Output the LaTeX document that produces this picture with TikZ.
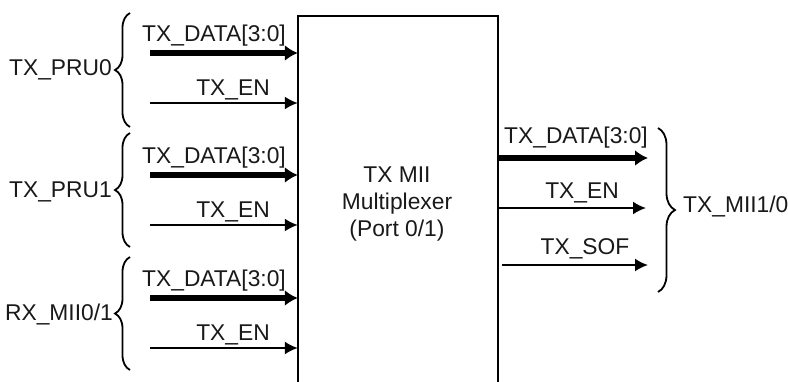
\documentclass[tikz,border=0pt]{standalone}
\usepackage{fontspec}
\setmainfont{Liberation Sans}
\usetikzlibrary{arrows.meta,decorations.pathreplacing}

\begin{document}
\begin{tikzpicture}[x=1pt,y=-1pt,
  bus/.style={line width=5.5pt,-{Latex[length=13pt,width=16pt]}},
  sig/.style={line width=2pt,-{Latex[length=13pt,width=13pt]}},
  brc/.style={line width=1.8pt,decorate,decoration={brace,amplitude=15pt}},
  lbl/.style={font=\fontsize{22.8}{27}\selectfont,inner sep=0pt,text=black!90}]
  \useasboundingbox (0,0) rectangle (788,381);
  % the multiplexer, open at the bottom
  \node[inner sep=0pt,minimum width=200pt,minimum height=380pt] (mux) at (398,206) {};
  \draw[line width=2pt] (mux.south west) -- (mux.north west) -- (mux.north east) -- (mux.south east);
  \node[lbl,align=center] (muxtxt) at (397,204) {TX MII\\Multiplexer\\(Port 0/1)};

  % TX_PRU0
  \coordinate (d0) at (150,53);
  \coordinate (e0) at (150,103);
  \draw[bus] (d0) -- (d0 -| mux.west);
  \draw[sig] (e0) -- (e0 -| mux.west);
  \node[lbl,anchor=base] (d0txt) at (214,41) {TX\_DATA[3:0]};
  \node[lbl,anchor=base] (e0txt) at (233,95.5) {TX\_EN};
  \draw[brc] (130,127) -- (130,13);
  \node[lbl,anchor=base east] (pru0) at (112,75) {TX\_PRU0};

  % TX_PRU1
  \coordinate (d1) at (150,175);
  \coordinate (e1) at (150,225);
  \draw[bus] (d1) -- (d1 -| mux.west);
  \draw[sig] (e1) -- (e1 -| mux.west);
  \node[lbl,anchor=base] (d1txt) at (214,163) {TX\_DATA[3:0]};
  \node[lbl,anchor=base] (e1txt) at (233,217.5) {TX\_EN};
  \draw[brc] (130,247) -- (130,133);
  \node[lbl,anchor=base east] (pru1) at (112,197) {TX\_PRU1};

  % RX_MII0/1
  \coordinate (d2) at (150,298);
  \coordinate (e2) at (150,348);
  \draw[bus] (d2) -- (d2 -| mux.west);
  \draw[sig] (e2) -- (e2 -| mux.west);
  \node[lbl,anchor=base] (d2txt) at (214,286) {TX\_DATA[3:0]};
  \node[lbl,anchor=base] (e2txt) at (233,340.5) {TX\_EN};
  \draw[brc] (130,370) -- (130,257);
  \node[lbl,anchor=base east] (rxmii) at (113,320) {RX\_MII0/1};

  % outputs
  \coordinate (od) at (648,158);
  \coordinate (oe) at (646,208);
  \coordinate (os0) at (502,265);
  \coordinate (os) at (648,265);
  \draw[bus] (od -| mux.east) -- (od);
  \draw[sig] (oe -| mux.east) -- (oe);
  \draw[sig] (os0) -- (os);
  \node[lbl,anchor=base] (odtxt) at (576,143) {TX\_DATA[3:0]};
  \node[lbl,anchor=base] (oetxt) at (582,198) {TX\_EN};
  \node[lbl,anchor=base] (ostxt) at (585,254) {TX\_SOF};
  \draw[brc,decoration={amplitude=17pt}] (658,128) -- (658,292);
  \node[lbl,anchor=base west] (txmii) at (683,212) {TX\_MII1/0};
\end{tikzpicture}
\end{document}
